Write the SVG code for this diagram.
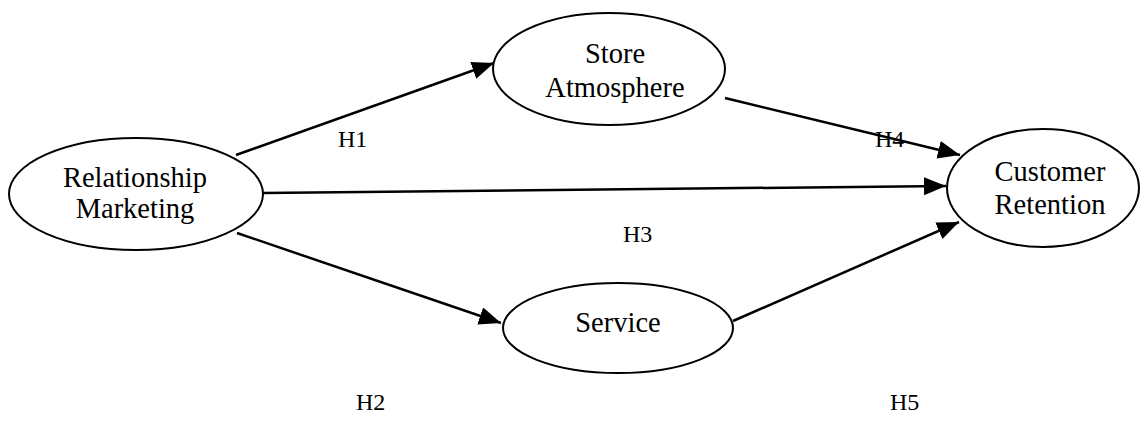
<svg xmlns="http://www.w3.org/2000/svg" width="1148" height="433" viewBox="0 0 1148 433">
<style>
.node ellipse{fill:#fff;stroke:#000;stroke-width:2}
.node text{font-family:"Liberation Serif","Times New Roman",serif;font-size:28.5px;fill:#000;text-anchor:middle}
.lbl{font-family:"Liberation Serif","Times New Roman",serif;font-size:24px;fill:#000}
#connectors line{stroke:#000;stroke-width:2.5;marker-end:url(#ah)}
</style>
<defs>
<marker id="ah" markerUnits="userSpaceOnUse" markerWidth="24" markerHeight="20" refX="22" refY="9" orient="auto">
<path d="M0,0 L22,9 L0,18 Z" fill="#000"/>
</marker>
</defs>
<rect width="1148" height="433" fill="#fff"/>
<g id="connectors">
<line x1="236" y1="155" x2="494" y2="63"/>
<line x1="263" y1="193" x2="946" y2="186"/>
<line x1="237" y1="233" x2="501" y2="323"/>
<line x1="725" y1="98" x2="960" y2="155"/>
<line x1="733" y1="321" x2="959" y2="222"/>
</g>
<g id="relationship-marketing" class="node">
<ellipse cx="136" cy="194" rx="127" ry="56"/>
<text x="135" y="187">Relationship</text>
<text x="135" y="218">Marketing</text>
</g>
<g id="store-atmosphere" class="node">
<ellipse cx="609" cy="69" rx="116" ry="56"/>
<text x="615" y="63">Store</text>
<text x="615" y="97">Atmosphere</text>
</g>
<g id="service" class="node">
<ellipse cx="618" cy="328" rx="115" ry="45"/>
<text x="618" y="332">Service</text>
</g>
<g id="customer-retention" class="node">
<ellipse cx="1043" cy="188" rx="96" ry="59"/>
<text x="1050" y="181">Customer</text>
<text x="1050" y="214">Retention</text>
</g>
<g id="labels">
<text class="lbl" x="338" y="147">H1</text>
<text class="lbl" x="875" y="147">H4</text>
<text class="lbl" x="623" y="242">H3</text>
<text class="lbl" x="356" y="410">H2</text>
<text class="lbl" x="890" y="410">H5</text>
</g>
</svg>
